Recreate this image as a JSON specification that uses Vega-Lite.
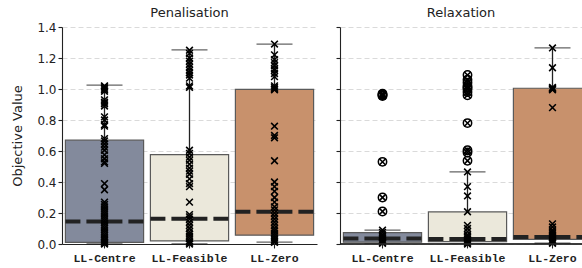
{
  "$schema": "https://vega.github.io/schema/vega-lite/v6.json",
  "padding": {"left": 11, "top": 7, "right": 0, "bottom": 0},
  "background": "white",
  "datasets": {
    "pen_stats": [
      {"method": "LL-Centre", "lo": 0.0, "q1": 0.01, "median": 0.145, "q3": 0.67, "hi": 1.025},
      {"method": "LL-Feasible", "lo": 0.0, "q1": 0.02, "median": 0.163, "q3": 0.576, "hi": 1.253},
      {"method": "LL-Zero", "lo": 0.012, "q1": 0.057, "median": 0.208, "q3": 0.997, "hi": 1.29}
    ],
    "rel_stats": [
      {"method": "LL-Centre", "lo": 0.0, "q1": 0.012, "median": 0.035, "q3": 0.073, "hi": 0.09},
      {"method": "LL-Feasible", "lo": 0.0, "q1": 0.015, "median": 0.032, "q3": 0.207, "hi": 0.465},
      {"method": "LL-Zero", "lo": 0.005, "q1": 0.03, "median": 0.045, "q3": 1.005, "hi": 1.265}
    ],
    "pen_pts": [
      {"method": "LL-Centre", "value": 1.02}, {"method": "LL-Centre", "value": 1.015}, {"method": "LL-Centre", "value": 1.005}, {"method": "LL-Centre", "value": 0.995}, {"method": "LL-Centre", "value": 0.985},
      {"method": "LL-Centre", "value": 0.93}, {"method": "LL-Centre", "value": 0.915}, {"method": "LL-Centre", "value": 0.905}, {"method": "LL-Centre", "value": 0.89}, {"method": "LL-Centre", "value": 0.82},
      {"method": "LL-Centre", "value": 0.8}, {"method": "LL-Centre", "value": 0.77}, {"method": "LL-Centre", "value": 0.76}, {"method": "LL-Centre", "value": 0.68}, {"method": "LL-Centre", "value": 0.665},
      {"method": "LL-Centre", "value": 0.645}, {"method": "LL-Centre", "value": 0.625}, {"method": "LL-Centre", "value": 0.605}, {"method": "LL-Centre", "value": 0.575}, {"method": "LL-Centre", "value": 0.55},
      {"method": "LL-Centre", "value": 0.53}, {"method": "LL-Centre", "value": 0.52}, {"method": "LL-Centre", "value": 0.39}, {"method": "LL-Centre", "value": 0.35}, {"method": "LL-Centre", "value": 0.27},
      {"method": "LL-Centre", "value": 0.255}, {"method": "LL-Centre", "value": 0.24}, {"method": "LL-Centre", "value": 0.225}, {"method": "LL-Centre", "value": 0.21}, {"method": "LL-Centre", "value": 0.195},
      {"method": "LL-Centre", "value": 0.18}, {"method": "LL-Centre", "value": 0.165}, {"method": "LL-Centre", "value": 0.15}, {"method": "LL-Centre", "value": 0.135}, {"method": "LL-Centre", "value": 0.12},
      {"method": "LL-Centre", "value": 0.105}, {"method": "LL-Centre", "value": 0.09}, {"method": "LL-Centre", "value": 0.075}, {"method": "LL-Centre", "value": 0.06}, {"method": "LL-Centre", "value": 0.045},
      {"method": "LL-Centre", "value": 0.03}, {"method": "LL-Centre", "value": 0.02}, {"method": "LL-Centre", "value": 0.01}, {"method": "LL-Centre", "value": 0.005}, {"method": "LL-Centre", "value": 0.0},
      {"method": "LL-Feasible", "value": 1.25}, {"method": "LL-Feasible", "value": 1.23}, {"method": "LL-Feasible", "value": 1.2}, {"method": "LL-Feasible", "value": 1.18}, {"method": "LL-Feasible", "value": 1.16},
      {"method": "LL-Feasible", "value": 1.14}, {"method": "LL-Feasible", "value": 1.12}, {"method": "LL-Feasible", "value": 1.105}, {"method": "LL-Feasible", "value": 1.09}, {"method": "LL-Feasible", "value": 1.07},
      {"method": "LL-Feasible", "value": 1.02}, {"method": "LL-Feasible", "value": 1.01}, {"method": "LL-Feasible", "value": 0.605}, {"method": "LL-Feasible", "value": 0.585}, {"method": "LL-Feasible", "value": 0.56},
      {"method": "LL-Feasible", "value": 0.54}, {"method": "LL-Feasible", "value": 0.515}, {"method": "LL-Feasible", "value": 0.49}, {"method": "LL-Feasible", "value": 0.47}, {"method": "LL-Feasible", "value": 0.45},
      {"method": "LL-Feasible", "value": 0.42}, {"method": "LL-Feasible", "value": 0.39}, {"method": "LL-Feasible", "value": 0.37}, {"method": "LL-Feasible", "value": 0.27}, {"method": "LL-Feasible", "value": 0.19},
      {"method": "LL-Feasible", "value": 0.175}, {"method": "LL-Feasible", "value": 0.16}, {"method": "LL-Feasible", "value": 0.14}, {"method": "LL-Feasible", "value": 0.12}, {"method": "LL-Feasible", "value": 0.1},
      {"method": "LL-Feasible", "value": 0.08}, {"method": "LL-Feasible", "value": 0.065}, {"method": "LL-Feasible", "value": 0.05}, {"method": "LL-Feasible", "value": 0.035}, {"method": "LL-Feasible", "value": 0.02},
      {"method": "LL-Feasible", "value": 0.01}, {"method": "LL-Feasible", "value": 0.0},
      {"method": "LL-Zero", "value": 1.29}, {"method": "LL-Zero", "value": 1.22}, {"method": "LL-Zero", "value": 1.19}, {"method": "LL-Zero", "value": 1.17}, {"method": "LL-Zero", "value": 1.15},
      {"method": "LL-Zero", "value": 1.13}, {"method": "LL-Zero", "value": 1.12}, {"method": "LL-Zero", "value": 1.1}, {"method": "LL-Zero", "value": 1.08}, {"method": "LL-Zero", "value": 1.02},
      {"method": "LL-Zero", "value": 1.01}, {"method": "LL-Zero", "value": 1.0}, {"method": "LL-Zero", "value": 0.995}, {"method": "LL-Zero", "value": 0.76}, {"method": "LL-Zero", "value": 0.7},
      {"method": "LL-Zero", "value": 0.685}, {"method": "LL-Zero", "value": 0.537}, {"method": "LL-Zero", "value": 0.4}, {"method": "LL-Zero", "value": 0.37}, {"method": "LL-Zero", "value": 0.34},
      {"method": "LL-Zero", "value": 0.3}, {"method": "LL-Zero", "value": 0.27}, {"method": "LL-Zero", "value": 0.24}, {"method": "LL-Zero", "value": 0.22}, {"method": "LL-Zero", "value": 0.2},
      {"method": "LL-Zero", "value": 0.18}, {"method": "LL-Zero", "value": 0.16}, {"method": "LL-Zero", "value": 0.14}, {"method": "LL-Zero", "value": 0.12}, {"method": "LL-Zero", "value": 0.1},
      {"method": "LL-Zero", "value": 0.085}, {"method": "LL-Zero", "value": 0.07}, {"method": "LL-Zero", "value": 0.055}, {"method": "LL-Zero", "value": 0.04}, {"method": "LL-Zero", "value": 0.03},
      {"method": "LL-Zero", "value": 0.02}, {"method": "LL-Zero", "value": 0.01}
    ],
    "rel_pts": [
      {"method": "LL-Centre", "value": 0.97, "outlier": true}, {"method": "LL-Centre", "value": 0.965, "outlier": true}, {"method": "LL-Centre", "value": 0.96, "outlier": true}, {"method": "LL-Centre", "value": 0.955, "outlier": true},
      {"method": "LL-Centre", "value": 0.53, "outlier": true}, {"method": "LL-Centre", "value": 0.3, "outlier": true}, {"method": "LL-Centre", "value": 0.21, "outlier": true},
      {"method": "LL-Centre", "value": 0.09, "outlier": false}, {"method": "LL-Centre", "value": 0.075, "outlier": false}, {"method": "LL-Centre", "value": 0.06, "outlier": false}, {"method": "LL-Centre", "value": 0.05, "outlier": false},
      {"method": "LL-Centre", "value": 0.04, "outlier": false}, {"method": "LL-Centre", "value": 0.03, "outlier": false}, {"method": "LL-Centre", "value": 0.02, "outlier": false}, {"method": "LL-Centre", "value": 0.01, "outlier": false},
      {"method": "LL-Centre", "value": 0.005, "outlier": false},
      {"method": "LL-Feasible", "value": 1.09, "outlier": true}, {"method": "LL-Feasible", "value": 1.06, "outlier": true}, {"method": "LL-Feasible", "value": 1.04, "outlier": true}, {"method": "LL-Feasible", "value": 1.02, "outlier": true},
      {"method": "LL-Feasible", "value": 1.01, "outlier": true}, {"method": "LL-Feasible", "value": 1.0, "outlier": true}, {"method": "LL-Feasible", "value": 0.98, "outlier": true}, {"method": "LL-Feasible", "value": 0.96, "outlier": true},
      {"method": "LL-Feasible", "value": 0.78, "outlier": true}, {"method": "LL-Feasible", "value": 0.605, "outlier": true}, {"method": "LL-Feasible", "value": 0.59, "outlier": true}, {"method": "LL-Feasible", "value": 0.537, "outlier": true},
      {"method": "LL-Feasible", "value": 0.465, "outlier": false}, {"method": "LL-Feasible", "value": 0.37, "outlier": false}, {"method": "LL-Feasible", "value": 0.31, "outlier": false}, {"method": "LL-Feasible", "value": 0.208, "outlier": false},
      {"method": "LL-Feasible", "value": 0.12, "outlier": false}, {"method": "LL-Feasible", "value": 0.1, "outlier": false}, {"method": "LL-Feasible", "value": 0.08, "outlier": false}, {"method": "LL-Feasible", "value": 0.06, "outlier": false},
      {"method": "LL-Feasible", "value": 0.05, "outlier": false}, {"method": "LL-Feasible", "value": 0.04, "outlier": false}, {"method": "LL-Feasible", "value": 0.03, "outlier": false}, {"method": "LL-Feasible", "value": 0.02, "outlier": false},
      {"method": "LL-Feasible", "value": 0.01, "outlier": false}, {"method": "LL-Feasible", "value": 0.0, "outlier": false},
      {"method": "LL-Zero", "value": 1.265, "outlier": false}, {"method": "LL-Zero", "value": 1.137, "outlier": false}, {"method": "LL-Zero", "value": 1.01, "outlier": false}, {"method": "LL-Zero", "value": 1.005, "outlier": false},
      {"method": "LL-Zero", "value": 1.0, "outlier": false}, {"method": "LL-Zero", "value": 0.995, "outlier": false}, {"method": "LL-Zero", "value": 0.88, "outlier": false}, {"method": "LL-Zero", "value": 0.13, "outlier": false},
      {"method": "LL-Zero", "value": 0.11, "outlier": false}, {"method": "LL-Zero", "value": 0.09, "outlier": false}, {"method": "LL-Zero", "value": 0.08, "outlier": false}, {"method": "LL-Zero", "value": 0.07, "outlier": false},
      {"method": "LL-Zero", "value": 0.06, "outlier": false}, {"method": "LL-Zero", "value": 0.05, "outlier": false}, {"method": "LL-Zero", "value": 0.04, "outlier": false}, {"method": "LL-Zero", "value": 0.03, "outlier": false},
      {"method": "LL-Zero", "value": 0.02, "outlier": false}, {"method": "LL-Zero", "value": 0.01, "outlier": false}, {"method": "LL-Zero", "value": 0.005, "outlier": false}
    ]
  },
  "config": {
    "view": {"stroke": null},
    "font": "DejaVu Sans",
    "title": {"font": "DejaVu Sans", "fontSize": 13, "fontWeight": "normal", "color": "#222"},
    "axis": {
      "domainColor": "#222", "domainWidth": 1.1, "tickColor": "#222", "tickSize": 4, "tickWidth": 1.1,
      "labelColor": "#222", "labelFont": "DejaVu Sans", "labelFontSize": 12,
      "titleFont": "DejaVu Sans", "titleFontSize": 13, "titleFontWeight": "normal", "titleColor": "#222"
    },
    "axisX": {"labelFont": "Liberation Mono", "labelFontWeight": "bold", "labelFontSize": 11.5, "labelAngle": 0, "labelPadding": 4, "title": null, "grid": false},
    "axisY": {"grid": true, "gridColor": "#cccccc", "gridDash": [5, 3], "gridWidth": 0.9, "gridOpacity": 0.8, "zindex": 1, "tickCount": 8, "format": ".1f", "values": [0, 0.2, 0.4, 0.6, 0.8, 1.0, 1.2, 1.4]}
  },
  "spacing": 18,
  "hconcat": [
    {
      "width": 255,
      "height": 217,
      "title": {"text": "Penalisation", "frame": "group", "offset": 1, "font": "DejaVu Sans", "fontSize": 13, "fontWeight": "normal", "color": "#222"},
      "layer": [
        {
          "data": {"name": "pen_stats"},
          "mark": {"type": "rule", "color": "#222", "strokeWidth": 1.3},
          "encoding": {
            "x": {"field": "method", "type": "nominal", "sort": ["LL-Centre", "LL-Feasible", "LL-Zero"], "scale": {"paddingInner": 0.08, "paddingOuter": 0.04}, "axis": {"domain": true}},
            "y": {"field": "lo", "type": "quantitative", "scale": {"domain": [0, 1.4], "nice": false}, "axis": {"title": "Objective Value", "titlePadding": 12}},
            "y2": {"field": "hi"}
          }
        },
        {
          "data": {"name": "pen_stats"},
          "mark": {"type": "bar", "stroke": "#5a5a5a", "strokeWidth": 1.2},
          "encoding": {
            "x": {"field": "method", "type": "nominal", "sort": ["LL-Centre", "LL-Feasible", "LL-Zero"]},
            "y": {"field": "q1", "type": "quantitative"},
            "y2": {"field": "q3"},
            "fill": {"field": "method", "type": "nominal", "scale": {"domain": ["LL-Centre", "LL-Feasible", "LL-Zero"], "range": ["#838a9c", "#ebe8db", "#c8916c"]}, "legend": null}
          }
        },
        {
          "data": {"name": "pen_stats"},
          "mark": {"type": "tick", "color": "#222", "size": 36, "thickness": 1.3},
          "encoding": {
            "x": {"field": "method", "type": "nominal", "sort": ["LL-Centre", "LL-Feasible", "LL-Zero"]},
            "y": {"field": "hi", "type": "quantitative"}
          }
        },
        {
          "data": {"name": "pen_stats"},
          "mark": {"type": "tick", "color": "#222", "size": 36, "thickness": 1.3},
          "encoding": {
            "x": {"field": "method", "type": "nominal", "sort": ["LL-Centre", "LL-Feasible", "LL-Zero"]},
            "y": {"field": "lo", "type": "quantitative"}
          }
        },
        {
          "data": {"name": "pen_stats"},
          "mark": {"type": "rule", "color": "#222", "strokeWidth": 4, "strokeDash": [15, 6], "strokeCap": "butt"},
          "encoding": {
            "x": {"field": "method", "type": "nominal", "sort": ["LL-Centre", "LL-Feasible", "LL-Zero"], "bandPosition": 0},
            "x2": {"field": "method", "bandPosition": 1},
            "y": {"field": "median", "type": "quantitative"}
          }
        },
        {
          "data": {"name": "pen_pts"},
          "mark": {"type": "point", "shape": "M-1,-1L1,1M-1,1L1,-1", "filled": false, "stroke": "#000", "strokeWidth": 1.6, "size": 45, "opacity": 1},
          "encoding": {
            "x": {"field": "method", "type": "nominal", "sort": ["LL-Centre", "LL-Feasible", "LL-Zero"]},
            "y": {"field": "value", "type": "quantitative"}
          }
        }
      ]
    },
    {
      "width": 242,
      "height": 217,
      "title": {"text": "Relaxation", "frame": "group", "offset": 6, "font": "DejaVu Sans", "fontSize": 13, "fontWeight": "normal", "color": "#222"},
      "layer": [
        {
          "data": {"name": "rel_stats"},
          "mark": {"type": "rule", "color": "#222", "strokeWidth": 1.3},
          "encoding": {
            "x": {"field": "method", "type": "nominal", "sort": ["LL-Centre", "LL-Feasible", "LL-Zero"], "scale": {"paddingInner": 0.08, "paddingOuter": 0.04, "range": [0, 255]}, "axis": {"domain": false}},
            "y": {"field": "lo", "type": "quantitative", "scale": {"domain": [0, 1.4], "nice": false}, "axis": {"title": null, "labels": false}},
            "y2": {"field": "hi"}
          }
        },
        {
          "data": {"name": "rel_stats"},
          "mark": {"type": "bar", "stroke": "#5a5a5a", "strokeWidth": 1.2, "clip": true},
          "encoding": {
            "x": {"field": "method", "type": "nominal", "sort": ["LL-Centre", "LL-Feasible", "LL-Zero"]},
            "y": {"field": "q1", "type": "quantitative"},
            "y2": {"field": "q3"},
            "fill": {"field": "method", "type": "nominal", "scale": {"domain": ["LL-Centre", "LL-Feasible", "LL-Zero"], "range": ["#838a9c", "#ebe8db", "#c8916c"]}, "legend": null}
          }
        },
        {
          "data": {"name": "rel_stats"},
          "mark": {"type": "tick", "color": "#222", "size": 36, "thickness": 1.3, "clip": true},
          "encoding": {
            "x": {"field": "method", "type": "nominal", "sort": ["LL-Centre", "LL-Feasible", "LL-Zero"]},
            "y": {"field": "hi", "type": "quantitative"}
          }
        },
        {
          "data": {"name": "rel_stats"},
          "mark": {"type": "tick", "color": "#222", "size": 36, "thickness": 1.3, "clip": true},
          "encoding": {
            "x": {"field": "method", "type": "nominal", "sort": ["LL-Centre", "LL-Feasible", "LL-Zero"]},
            "y": {"field": "lo", "type": "quantitative"}
          }
        },
        {
          "data": {"name": "rel_stats"},
          "mark": {"type": "rule", "color": "#222", "strokeWidth": 4, "strokeDash": [15, 6], "strokeCap": "butt", "clip": true},
          "encoding": {
            "x": {"field": "method", "type": "nominal", "sort": ["LL-Centre", "LL-Feasible", "LL-Zero"], "bandPosition": 0},
            "x2": {"field": "method", "bandPosition": 1},
            "y": {"field": "median", "type": "quantitative"}
          }
        },
        {
          "data": {"name": "rel_pts"},
          "transform": [{"filter": "datum.outlier"}],
          "mark": {"type": "point", "shape": "circle", "filled": false, "stroke": "#000", "strokeWidth": 1.5, "size": 70, "opacity": 1},
          "encoding": {
            "x": {"field": "method", "type": "nominal", "sort": ["LL-Centre", "LL-Feasible", "LL-Zero"]},
            "y": {"field": "value", "type": "quantitative"}
          }
        },
        {
          "data": {"name": "rel_pts"},
          "mark": {"type": "point", "shape": "M-1,-1L1,1M-1,1L1,-1", "filled": false, "stroke": "#000", "strokeWidth": 1.6, "size": 45, "opacity": 1},
          "encoding": {
            "x": {"field": "method", "type": "nominal", "sort": ["LL-Centre", "LL-Feasible", "LL-Zero"]},
            "y": {"field": "value", "type": "quantitative"}
          }
        },
        {
          "data": {"name": "rel_stats"},
          "mark": {"type": "rule", "color": "#222", "strokeWidth": 1.1},
          "encoding": {"y": {"datum": 0, "type": "quantitative"}}
        }
      ]
    }
  ]
}
